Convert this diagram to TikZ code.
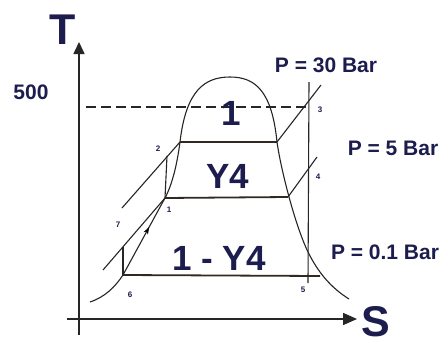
\documentclass[tikz,border=0pt]{standalone}
\usepackage{fontspec}
\setmainfont{Liberation Sans}
\usetikzlibrary{arrows.meta,decorations.markings,calc}
\definecolor{ink}{RGB}{28,28,78}
\definecolor{ln}{RGB}{38,38,38}
\definecolor{iso}{RGB}{50,40,35}
\begin{document}
\begin{tikzpicture}[x=1pt,y=-1pt,
  curve/.style={draw=ln,line width=1.1pt},
  isobar/.style={draw=iso,line width=1.8pt},
  axisline/.style={draw=ln,line width=1.5pt},
  bigtxt/.style={text=ink,font=\bfseries\fontsize{35}{35}\selectfont,inner sep=0pt},
  axtxt/.style={text=ink,font=\bfseries\fontsize{43}{43}\selectfont,inner sep=0pt},
  ptxt/.style={text=ink,font=\bfseries\fontsize{21}{21}\selectfont,inner sep=0pt},
  numtxt/.style={text=ink,font=\bfseries\fontsize{8}{8}\selectfont,inner sep=0pt},
  midarrow/.style={postaction={decorate},decoration={markings,
     mark=at position 0.62 with {\arrow{Stealth[length=7pt,width=5pt]}}}}
]
\useasboundingbox[fill=white] (0,0) rectangle (448,346);

% axes
\coordinate (yb) at (79,335);
\coordinate (yt) at (79,42);
\coordinate (xl) at (67,319);
\coordinate (xr) at (357,319);
\draw[axisline,-{Triangle[length=12pt,width=11pt]}] (yb) -- (yt);
\draw[axisline,-{Triangle[length=14pt,width=12pt]}] (xl) -- (xr);
\node[axtxt] (T) at (63,30) {T};
\node[axtxt] (S) at (376,322) {S};

% key points
\coordinate (p1) at (165,198);
\coordinate (p2) at (180,142);
\coordinate (p3) at (309,107);
\coordinate (p4) at (309,172);
\coordinate (p5) at (309,276);
\coordinate (p6) at (123,275);
\coordinate (g2) at (277,142);
\coordinate (g1) at (288,197);
\coordinate (g6) at (320,276);

% saturation dome
\draw[curve] (90,302) .. controls (105,297) and (115,287) .. (p6) -- (p1)
  .. controls (172,185) and (177,165) .. (p2)
  .. controls (186,90) and (205,77) .. (230,77)
  .. controls (256,77) and (272,92) .. (g2)
  .. controls (281,170) and (295,225) .. (308,252)
  .. controls (318,272) and (330,287) .. (349,299);
\draw[midarrow,draw=none] (p6) -- (p1);

% 500 line
\coordinate (d0) at (86,107);
\draw[ln,line width=1.3pt,dash pattern=on 10pt off 5pt] (d0) -- (p3);
\node[ptxt] (t500) at (31,92) {500};

% isobars in the two-phase region
\draw[isobar] (p2) -- (g2);
\draw[isobar] (p1) -- (g1);
\draw[isobar] (p6) -- (g6);

% superheated parts
\coordinate (h30) at (321,85);
\coordinate (h5) at (317,157);
\draw[curve] (g2) -- (h30);
\draw[curve] (g1) -- (h5);

% turbine expansion
\coordinate (vt) at (309,82);
\coordinate (vb) at (308,283);
\draw[curve] (vt) -- (vb);

% compressed liquid lines and pumps
\coordinate (c7) at (122,208);
\coordinate (c0) at (103,270);
\coordinate (q7) at (123,247);
\coordinate (q2) at (167,156);
\draw[curve] (c7) -- (p2);
\draw[curve] (c0) -- (p1);
\draw[curve] (p6) -- (q7);
\draw[curve] (p1) -- (q2);

% point labels
\node[numtxt] (n2) at (158,149) {2};
\node[numtxt] (n1) at (169,210) {1};
\node[numtxt] (n7) at (118,225) {7};
\node[numtxt] (n6) at (130,295) {6};
\node[numtxt] (n3) at (320,110) {3};
\node[numtxt] (n4) at (318,177) {4};
\node[numtxt] (n5) at (303,290) {5};

% pressure labels
\node[ptxt] (P30) at (326,65) {P = 30 Bar};
\node[ptxt] (P5) at (393,148) {P = 5 Bar};
\node[ptxt] (P01) at (385,252) {P = 0.1 Bar};

% fractions
\node[bigtxt] (f1) at (231,113) {1};
\node[bigtxt] (fy) at (228,176) {Y4};
\node[bigtxt] (fr) at (219,258) {1 - Y4};
\end{tikzpicture}
\end{document}
